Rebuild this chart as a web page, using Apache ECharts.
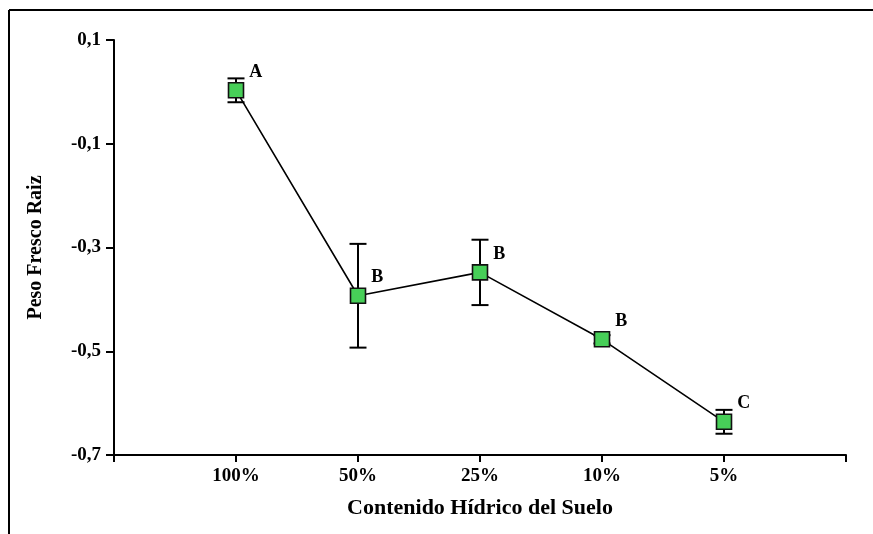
<!DOCTYPE html>
<html>
<head>
<meta charset="utf-8">
<script src="https://cdn.jsdelivr.net/npm/echarts@6/dist/echarts.min.js"></script>
<style>
  html, body { margin: 0; padding: 0; background: #fff; }
  #chart { width: 873px; height: 534px; }
</style>
</head>
<body>
<div id="chart"></div>
<script>
// Soil water content treatments and root fresh weight (mean ± error)
const categories = ['100%', '50%', '25%', '10%', '5%'];
const means = [0.003, -0.393, -0.348, -0.477, -0.636];
const errors = [0.023, 0.100, 0.063, 0.008, 0.023];
const letters = ['A', 'B', 'B', 'B', 'C'];
const yTicks = [-0.7, -0.5, -0.3, -0.1, 0.1];

const FONT = '"Liberation Serif", "Times New Roman", serif';
const GREEN = '#47cf58';

const pointData = means.map((m, i) => [i + 1, m]);
const errData = means.map((m, i) => [i + 1, m - errors[i], m + errors[i]]);

const chart = echarts.init(document.getElementById('chart'));

chart.setOption({
  animation: false,
  backgroundColor: '#fff',
  grid: { left: 114, right: 27, top: 40, bottom: 79, containLabel: false },
  graphic: [
    { type: 'line', shape: { x1: 9, y1: 10, x2: 873, y2: 10 }, style: { stroke: '#000', lineWidth: 2 } },
    { type: 'line', shape: { x1: 9, y1: 10, x2: 9, y2: 534 }, style: { stroke: '#000', lineWidth: 2 } }
  ],
  xAxis: {
    type: 'value',
    min: 0,
    max: 6,
    interval: 1,
    name: 'Contenido Hídrico del Suelo',
    nameLocation: 'middle',
    nameGap: 42,
    nameTextStyle: { fontFamily: FONT, fontWeight: 'bold', fontSize: 22, color: '#000' },
    axisLine: { show: true, onZero: false, lineStyle: { color: '#000', width: 2 } },
    axisTick: { show: true, inside: false, length: 7, lineStyle: { color: '#000', width: 2 } },
    axisLabel: {
      margin: 12,
      fontFamily: FONT, fontWeight: 'bold', fontSize: 19, color: '#000',
      formatter: v => (v >= 1 && v <= categories.length && Number.isInteger(v)) ? categories[v - 1] : ''
    },
    splitLine: { show: false }
  },
  yAxis: {
    type: 'value',
    min: yTicks[0],
    max: yTicks[yTicks.length - 1],
    interval: 0.2,
    name: 'Peso Fresco Raiz',
    nameLocation: 'middle',
    nameGap: 68,
    nameRotate: 90,
    nameTextStyle: { fontFamily: FONT, fontWeight: 'bold', fontSize: 20, color: '#000' },
    axisLine: { show: true, onZero: false, lineStyle: { color: '#000', width: 2 } },
    axisTick: { show: true, inside: false, length: 8, lineStyle: { color: '#000', width: 2 } },
    axisLabel: {
      margin: 13,
      fontFamily: FONT, fontWeight: 'bold', fontSize: 19, color: '#000',
      formatter: v => v.toFixed(1).replace('.', ',')
    },
    splitLine: { show: false }
  },
  series: [
    {
      type: 'custom',
      z: 1,
      data: errData,
      renderItem: (params, api) => {
        const x = api.value(0);
        const lo = api.coord([x, api.value(1)]);
        const hi = api.coord([x, api.value(2)]);
        const cap = 8.5;
        const style = { stroke: '#000', lineWidth: 2 };
        return {
          type: 'group',
          children: [
            { type: 'line', shape: { x1: lo[0], y1: lo[1], x2: hi[0], y2: hi[1] }, style },
            { type: 'line', shape: { x1: hi[0] - cap, y1: hi[1], x2: hi[0] + cap, y2: hi[1] }, style },
            { type: 'line', shape: { x1: lo[0] - cap, y1: lo[1], x2: lo[0] + cap, y2: lo[1] }, style }
          ]
        };
      }
    },
    {
      type: 'line',
      z: 2,
      data: pointData,
      symbol: 'rect',
      symbolSize: 15,
      lineStyle: { color: '#000', width: 1.6 },
      itemStyle: { color: GREEN, borderColor: '#111', borderWidth: 1.6 },
      label: {
        show: true,
        position: 'right',
        distance: 5,
        offset: [0, -18],
        fontFamily: FONT, fontWeight: 'bold', fontSize: 18, color: '#000',
        formatter: p => letters[p.dataIndex]
      }
    }
  ]
});
</script>
</body>
</html>
